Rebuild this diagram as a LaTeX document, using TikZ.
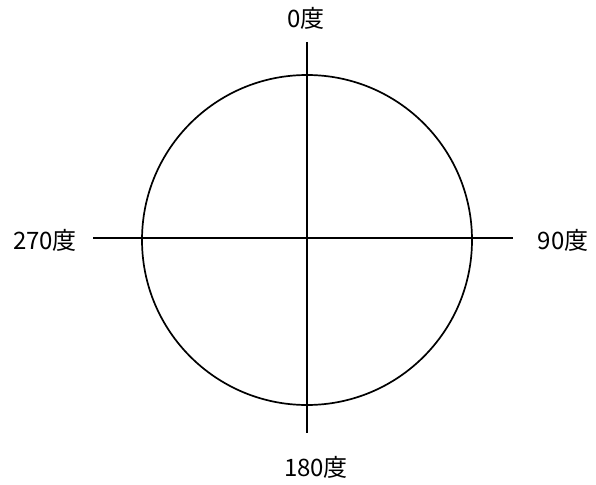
\documentclass[tikz,border=0pt]{standalone}
\usepackage{fontspec}
\newfontfamily\jpfont{Noto Sans CJK JP}
\begin{document}
\begin{tikzpicture}[x=1pt, y=-1pt,
    rim/.style={line width=1.7pt},
    axis/.style={line width=1.8pt, line cap=butt},
    deg/.style={font=\jpfont\fontsize{24}{24}\selectfont, inner sep=0pt}]
  % Compass circle with its two axes; y runs downwards as in the scan.
  \useasboundingbox (0,0) rectangle (596,484);
  \coordinate (o) at (307,240);
  \draw[rim] (o) circle[radius=165];
  \coordinate (n) at (307,42);
  \coordinate (s) at (307,433);
  \coordinate (w) at (93,238);
  \coordinate (e) at (513,238);
  \draw[axis] (n) -- (s);
  \draw[axis] (w) -- (e);
  \node[deg] (d0) at (306,18) {0度};
  \node[deg] (d90) at (563,240) {90度};
  \node[deg] (d180) at (316,467) {180度};
  \node[deg] (d270) at (45,240) {270度};
\end{tikzpicture}
\end{document}
